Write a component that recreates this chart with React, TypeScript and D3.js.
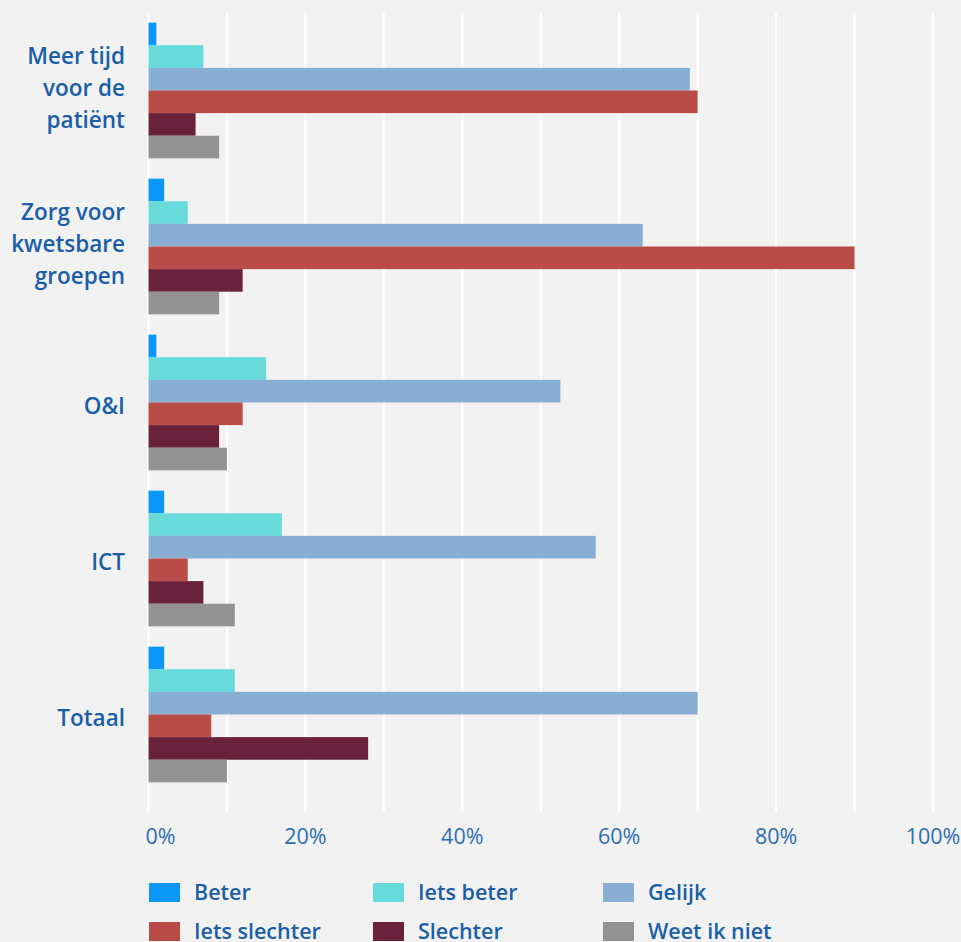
import React from 'react';
import * as d3 from 'd3';

// categories (top to bottom), label lines per category
const categories = ['Meer tijd voor de patiënt', 'Zorg voor kwetsbare groepen', 'O&I', 'ICT', 'Totaal'];
const categoryLines = [
  ['Meer tijd', 'voor de', 'patiënt'],
  ['Zorg voor', 'kwetsbare', 'groepen'],
  ['O&I'],
  ['ICT'],
  ['Totaal'],
];

const seriesNames = ['Beter', 'Iets beter', 'Gelijk', 'Iets slechter', 'Slechter', 'Weet ik niet'];
const seriesColors = ['#0a97f7', '#67dbdb', '#88aed3', '#b94c47', '#69213c', '#929292'];

// values in %
const beter = [1, 2, 1, 2, 2];
const ietsBeter = [7, 5, 15, 17, 11];
const gelijk = [69, 63, 52.5, 57, 70];
const ietsSlechter = [70, 90, 12, 5, 8];
const slechter = [6, 12, 9, 7, 28];
const weetIkNiet = [9, 9, 10, 11, 10];

const seriesValues = [beter, ietsBeter, gelijk, ietsSlechter, slechter, weetIkNiet];

const xTicks = [0, 20, 40, 60, 80, 100];
const gridTicks = d3.range(0, 101, 10);

const W = 961;
const H = 942;

const App: React.FC = () => {
  const x = d3.scaleLinear().domain([0, 100]).range([148.5, 933]);

  const y = d3.scaleBand<string>()
    .domain(categories)
    .range([12.5, 792.5])
    .paddingInner(0.13)
    .paddingOuter(0.065);

  const ySeries = d3.scaleBand<string>()
    .domain(seriesNames)
    .range([0, y.bandwidth()])
    .padding(0);

  const labelColor = '#1b5ea8';
  const font = '"Open Sans", "DejaVu Sans", sans-serif';

  const legendCols = [149, 373, 603];
  const legendRows = [883, 922];

  return (
    <svg width={W} height={H} style={{ position: 'absolute', left: 0, top: 0 }} fontFamily={font}>
      <rect x={0} y={0} width={W} height={H} fill="#f2f2f2" />

      {/* grid */}
      {gridTicks.map(t => (
        <line key={t} x1={x(t)} x2={x(t)} y1={13} y2={812} stroke="#ffffff" strokeWidth={2} />
      ))}

      {/* bars */}
      {categories.map((c, ci) => (
        <g key={c} transform={`translate(0,${y(c)})`}>
          {seriesNames.map((s, si) => (
            <rect
              key={s}
              x={x(0)}
              y={ySeries(s)}
              width={x(seriesValues[si][ci]) - x(0)}
              height={ySeries.bandwidth()}
              fill={seriesColors[si]}
            />
          ))}
        </g>
      ))}

      {/* category labels */}
      {categories.map((c, ci) => {
        const lines = categoryLines[ci];
        const center = (y(c) as number) + y.bandwidth() / 2;
        const n = lines.length;
        return (
          <text key={c} textAnchor="end" fill={labelColor} fontSize={22.5} fontWeight={600}>
            {lines.map((l, li) => (
              <tspan
                key={li}
                x={125}
                y={n === 1 ? center + 11 : center + 5 + (li - (n - 1) / 2) * 32}
              >
                {l}
              </tspan>
            ))}
          </text>
        );
      })}

      {/* x axis labels */}
      {xTicks.map(t => (
        <text
          key={t}
          x={t === 0 ? x(t) - 3 : x(t)}
          y={844}
          textAnchor={t === 0 ? 'start' : 'middle'}
          fill="#2c6db4"
          fontSize={21.5}
        >
          {`${t}%`}
        </text>
      ))}

      {/* legend */}
      {seriesNames.map((s, i) => {
        const lx = legendCols[i % 3];
        const ly = legendRows[Math.floor(i / 3)];
        return (
          <g key={s}>
            <rect x={lx} y={ly} width={31} height={19} fill={seriesColors[i]} />
            <text x={lx + 45} y={ly + 17} fill={labelColor} fontSize={21.5} fontWeight={600}>
              {s}
            </text>
          </g>
        );
      })}
    </svg>
  );
};

export default App;
